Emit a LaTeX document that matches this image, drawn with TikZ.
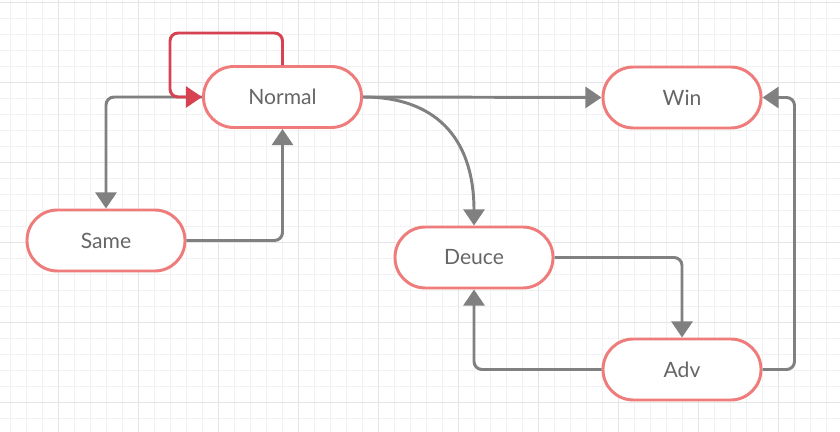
\documentclass[tikz,border=0pt]{standalone}
\usepackage{fontspec}
\setmainfont{Lato}
\usepackage{xcolor}
\usepackage{tikz}
\usetikzlibrary{arrows.meta, positioning, calc}
\definecolor{gridfaint}{HTML}{F2F2F2}
\definecolor{gridstrong}{HTML}{E5E5E5}
\definecolor{stateedge}{HTML}{EF7B7B}
\definecolor{loopred}{HTML}{D64250}
\definecolor{linkgray}{HTML}{808080}
\definecolor{textgray}{HTML}{666666}
\tikzset{
  state/.style={draw=stateedge, fill=white, line width=2.1pt, rounded corners=0.76cm,
                minimum width=3.95cm, minimum height=1.525cm, inner sep=0pt,
                font=\fontsize{15}{18}\selectfont, text=textgray},
  link/.style={-{Triangle[length=11.5pt, width=15pt]}, line width=2.1pt, color=linkgray,
               rounded corners=0.2cm},
  selfloop/.style={link, color=loopred},
}

\begin{document}
\begin{tikzpicture}[x=0.025cm, y=-0.025cm,
  gridline/.style={draw=gridfaint, line width=0.6pt}]
  \useasboundingbox (0,0) rectangle (840,432);
  % Background grid
  \fill[white] (0,0) rectangle (840,432);
  \foreach \gx in {10,26,...,840} \draw[gridline] (\gx,0) -- (\gx,432);
  \foreach \gy in {2,18,...,432} \draw[gridline] (0,\gy) -- (840,\gy);
  \foreach \gx in {58,138,...,840} \draw[gridline, draw=gridstrong] (\gx,0) -- (\gx,432);
  \foreach \gy in {2,82,...,432} \draw[gridline, draw=gridstrong] (0,\gy) -- (840,\gy);
  % States
  \node[state] (normal) at (282.5,97) {Normal};
  \node[state] (win)    at (682,97.5) {Win};
  \node[state] (same)   at (106,240.5) {Same};
  \node[state] (deuce)  at (474,257.5) {Deuce};
  \node[state] (adv)    at (682,369.5) {Adv};
  % Transitions
  \draw[link] (normal.west) -| (same.north);
  \draw[link] (same.east) -| (normal.south);
  \draw[link] (normal.east) -- (win.west);
  \draw[link, rounded corners=0pt] (normal.east) to[out=0, in=90, looseness=1.2] (deuce.north);
  \draw[link] (deuce.east) -| (adv.north);
  \draw[link] (adv.west) -| (deuce.south);
  \draw[link] (adv.east) -- ++(32,0) |- (win.east);
  \draw[selfloop] (normal.north) -- ++(0,-32) -- ++(-112.5,0) |- (normal.west);
\end{tikzpicture}
\end{document}
